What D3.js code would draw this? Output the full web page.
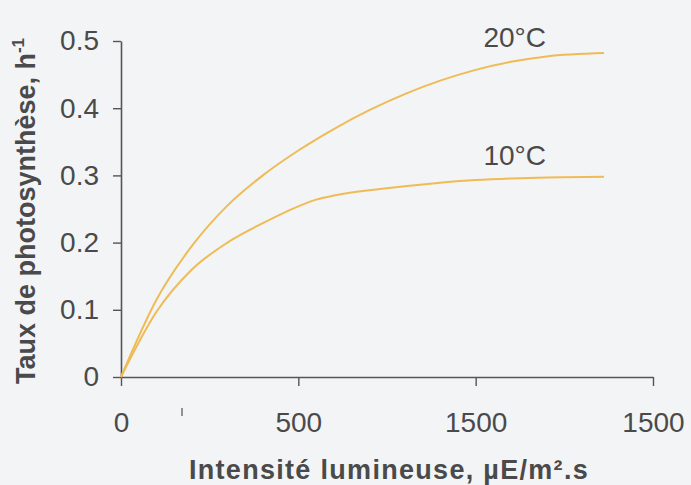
<!DOCTYPE html>
<html>
<head>
<meta charset="utf-8">
<script src="https://cdn.jsdelivr.net/npm/d3@7"></script>
<style>
  html, body { margin: 0; padding: 0; background: #f3f4f6; }
  svg { display: block; }
  text { font-family: "Liberation Sans", Arial, sans-serif; fill: #4a4a4a; }
</style>
</head>
<body>
<svg id="chart" width="691" height="485"></svg>
<script>
// Light intensity (µE/m².s) for the 20 °C curve
const intensity20 = [0, 100, 200, 300, 400, 500, 600, 700, 800, 900, 1000, 1100, 1200, 1362];
// Photosynthesis rate (h⁻¹) at 20 °C
const rate20 = [0, 0.115, 0.195, 0.255, 0.300, 0.337, 0.369, 0.397, 0.421, 0.441, 0.457, 0.469, 0.477, 0.482];
// Light intensity (µE/m².s) for the 10 °C curve
const intensity10 = [0, 100, 200, 300, 400, 500, 550, 600, 700, 800, 900, 1000, 1100, 1200, 1362];
// Photosynthesis rate (h⁻¹) at 10 °C
const rate10 = [0, 0.097, 0.160, 0.200, 0.229, 0.254, 0.264, 0.270, 0.278, 0.284, 0.289, 0.293, 0.2955, 0.297, 0.298];
// Curve labels
const seriesLabels = ["20°C", "10°C"];
// Axis ticks
const xTickValues = [0, 500, 1000, 1500];
const xTickLabels = ["0", "500", "1500", "1500"];
const yTickValues = [0, 0.1, 0.2, 0.3, 0.4, 0.5];
const yTickLabels = ["0", "0.1", "0.2", "0.3", "0.4", "0.5"];

const svg = d3.select("#chart");
const margin = { left: 121, right: 38, top: 41, bottom: 108 };
const W = 691, H = 485;

const x = d3.scaleLinear().domain([0, 1500]).range([margin.left, W - margin.right]);
const y = d3.scaleLinear().domain([0, 0.5]).range([H - margin.bottom, margin.top]);

const axisColor = "#555";
const curveColor = "#efbb55";
const font = "'Liberation Sans', Arial, sans-serif";

// X axis
const gx = svg.append("g")
  .attr("transform", `translate(0,${y(0)})`)
  .call(d3.axisBottom(x)
    .tickValues(xTickValues)
    .tickFormat((d, i) => xTickLabels[i])
    .tickSize(9)
    .tickSizeOuter(0)
    .tickPadding(26));
gx.select(".domain").attr("stroke", axisColor).attr("stroke-width", 1.6);
gx.selectAll(".tick line").attr("stroke", axisColor).attr("stroke-width", 1.4);
gx.selectAll(".tick text").attr("font-size", 28).attr("fill", "#4a4a4a").attr("font-family", font);

// small stray stroke under the axis
svg.append("line")
  .attr("x1", x(172)).attr("x2", x(172))
  .attr("y1", y(0) + 31).attr("y2", y(0) + 39)
  .attr("stroke", "#666").attr("stroke-width", 1.4);

// Y axis
const gy = svg.append("g")
  .attr("transform", `translate(${x(0)},0)`)
  .call(d3.axisLeft(y)
    .tickValues(yTickValues)
    .tickFormat((d, i) => yTickLabels[i])
    .tickSize(8)
    .tickSizeOuter(0)
    .tickPadding(14));
gy.select(".domain").attr("stroke", axisColor).attr("stroke-width", 1.6);
gy.selectAll(".tick line").attr("stroke", axisColor).attr("stroke-width", 1.4);
gy.selectAll(".tick text").attr("font-size", 28).attr("fill", "#4a4a4a").attr("font-family", font);

// Curves
const line = d3.line()
  .x(d => x(d[0]))
  .y(d => y(d[1]))
  .curve(d3.curveMonotoneX);

[[intensity20, rate20], [intensity10, rate10]].forEach(([xs, ys]) => {
  svg.append("path")
    .datum(xs.map((v, i) => [v, ys[i]]))
    .attr("d", line)
    .attr("fill", "none")
    .attr("stroke", curveColor)
    .attr("stroke-width", 2);
});

// Curve labels
svg.append("text")
  .attr("x", x(1110)).attr("y", y(rate20[rate20.length - 1]) - 6)
  .attr("text-anchor", "middle").attr("font-size", 28)
  .text(seriesLabels[0]);
svg.append("text")
  .attr("x", x(1110)).attr("y", y(rate10[rate10.length - 1]) - 12)
  .attr("text-anchor", "middle").attr("font-size", 28)
  .text(seriesLabels[1]);

// Axis titles
svg.append("text")
  .attr("x", 389).attr("y", 479)
  .attr("text-anchor", "middle")
  .attr("font-size", 27).attr("font-weight", "bold")
  .attr("letter-spacing", 1.3)
  .text("Intensité lumineuse, µE/m².s");

const yt = svg.append("text")
  .attr("transform", `translate(35,${(y(0) + y(0.5)) / 2 + 2}) rotate(-90)`)
  .attr("text-anchor", "middle")
  .attr("font-size", 27).attr("font-weight", "bold");
yt.append("tspan").text("Taux de photosynthèse, h");
yt.append("tspan").attr("dy", -11).attr("font-size", 17).text("-1");
</script>
</body>
</html>
